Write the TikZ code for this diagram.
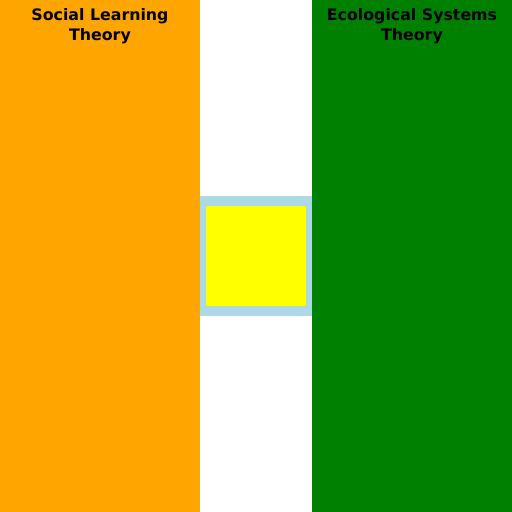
\documentclass[tikz,border=0pt]{standalone}
\usepackage{fontspec}
\setmainfont{DejaVu Sans}
\definecolor{sltorange}{HTML}{FFA500}
\definecolor{estgreen}{HTML}{008000}
\definecolor{ringblue}{HTML}{ADD8E6}
\definecolor{coreyellow}{HTML}{FFFF00}
\begin{document}
\begin{tikzpicture}[x=1pt, y=-1pt,
  panel/.style={draw=none},
  title/.style={anchor=base, align=center, inner sep=0pt, font=\fontsize{15.8}{19.5}\selectfont\bfseries}]

\useasboundingbox (0,0) rectangle (512,512);

\fill[panel, sltorange] (0,0) rectangle (200,512);
\fill[panel, estgreen] (312,0) rectangle (512,512);
\fill[panel, ringblue] (200,196) rectangle (312,316);
\fill[panel, coreyellow] (206,206) rectangle (306,306);

\node[title] at (100,40) (slt) {Social Learning\\Theory};
\node[title] at (412,40) (est) {Ecological Systems\\Theory};

\end{tikzpicture}
\end{document}
